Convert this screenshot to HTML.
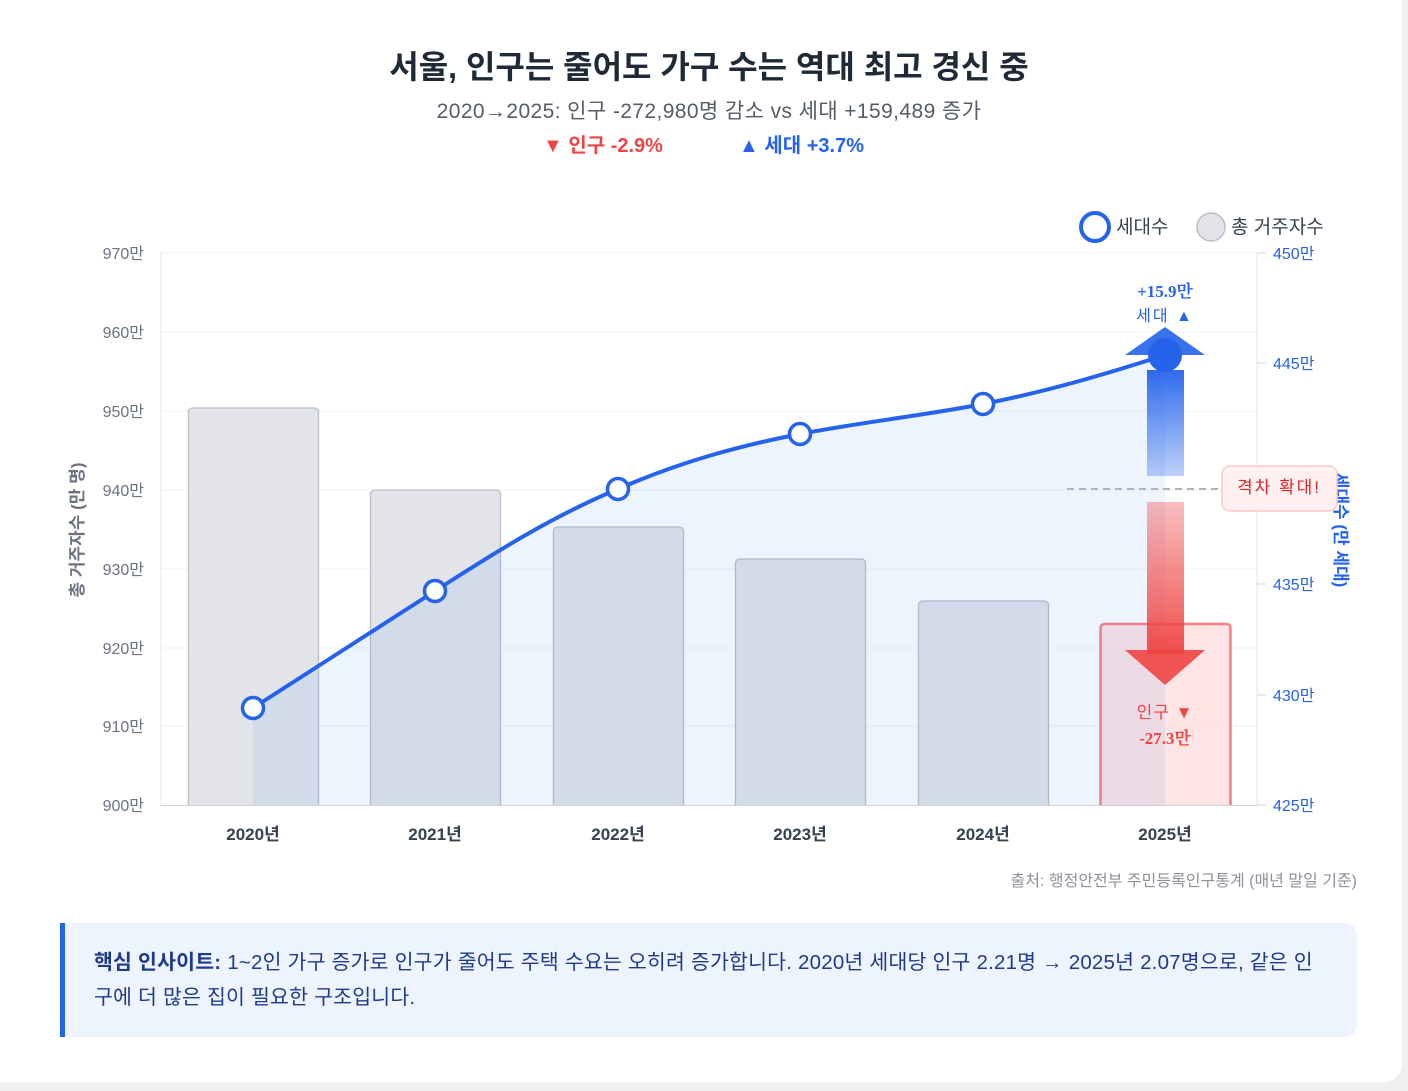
<!DOCTYPE html>
<html><head><meta charset="utf-8"><style>
html,body{margin:0;padding:0;background:#eeeff1;}
body{width:1408px;height:1091px;position:relative;overflow:hidden;font-family:"Liberation Sans","Noto Sans CJK KR",sans-serif;}
.card{position:absolute;left:0;top:0;width:1402px;height:1082px;background:#fff;border-radius:0 0 18px 0;}
.t{position:absolute;white-space:nowrap;}
</style></head><body>
<div class="card"></div>
<div class="t" style="left:0;width:1418px;text-align:center;top:42px;font-size:32px;font-weight:bold;color:#1f2937;">서울, 인구는 줄어도 가구 수는 역대 최고 경신 중</div>
<div class="t" style="left:0;width:1418px;text-align:center;top:95px;font-size:21px;letter-spacing:0.4px;color:#555c68;">2020→2025: 인구 -272,980명 감소 vs 세대 +159,489 증가</div>
<div class="t" style="left:543px;top:129px;font-size:20px;font-weight:bold;color:#ef4444;">▼ 인구 -2.9%</div>
<div class="t" style="left:739px;top:129px;font-size:20px;font-weight:bold;color:#2563eb;">▲ 세대 +3.7%</div>
<svg width="1408" height="1091" style="position:absolute;left:0;top:0" font-family="Liberation Sans, Noto Sans CJK KR, sans-serif">
<defs>
<linearGradient id="bg" x1="0" y1="0" x2="0" y2="1"><stop offset="0" stop-color="#2563eb" stop-opacity="0.95"/><stop offset="1" stop-color="#2563eb" stop-opacity="0.3"/></linearGradient>
<linearGradient id="rg" x1="0" y1="0" x2="0" y2="1"><stop offset="0" stop-color="#ef4444" stop-opacity="0.35"/><stop offset="1" stop-color="#ef4444" stop-opacity="0.95"/></linearGradient>
</defs>
<g stroke="#f0f1f3" stroke-width="1">
<line x1="160" y1="253" x2="1258" y2="253"/><line x1="160" y1="332" x2="1258" y2="332"/><line x1="160" y1="411" x2="1258" y2="411"/><line x1="160" y1="490" x2="1258" y2="490"/><line x1="160" y1="569" x2="1258" y2="569"/><line x1="160" y1="648" x2="1258" y2="648"/><line x1="160" y1="726" x2="1258" y2="726"/>
</g>
<line x1="161" y1="253" x2="161" y2="805" stroke="#e5e7eb"/>
<line x1="1257" y1="253" x2="1257" y2="805" stroke="#e5e7eb"/>
<line x1="160" y1="805.5" x2="1258" y2="805.5" stroke="#d1d5db"/>
<g font-size="16" fill="#6b7280" text-anchor="end">
<text x="144" y="259">970만</text><text x="144" y="338">960만</text><text x="144" y="417">950만</text><text x="144" y="496">940만</text><text x="144" y="575">930만</text><text x="144" y="654">920만</text><text x="144" y="732">910만</text><text x="144" y="811">900만</text>
</g>
<g stroke="#d1d5db"><line x1="1257" y1="253" x2="1266" y2="253"/><line x1="1257" y1="363" x2="1266" y2="363"/><line x1="1257" y1="474" x2="1266" y2="474"/><line x1="1257" y1="584" x2="1266" y2="584"/><line x1="1257" y1="695" x2="1266" y2="695"/><line x1="1257" y1="805" x2="1266" y2="805"/></g>
<g font-size="16" fill="#2563eb">
<text x="1273" y="259">450만</text><text x="1273" y="369">445만</text><text x="1273" y="590">435만</text><text x="1273" y="701">430만</text><text x="1273" y="811">425만</text>
</g>
<text transform="translate(83,530) rotate(-90)" text-anchor="middle" font-size="17" font-weight="bold" fill="#6b7280">총 거주자수 (만 명)</text>
<text transform="translate(1335,530) rotate(90)" text-anchor="middle" font-size="17" font-weight="bold" fill="#2563eb">세대수 (만 세대)</text>
<g fill="#e2e4e9" stroke="#b9bdc6" stroke-width="1.3">
<path d="M188.5 805V412a4 4 0 0 1 4-4h122a4 4 0 0 1 4 4V805"/>
<path d="M370.5 805V494a4 4 0 0 1 4-4h122a4 4 0 0 1 4 4V805"/>
<path d="M553.5 805V531a4 4 0 0 1 4-4h122a4 4 0 0 1 4 4V805"/>
<path d="M735.5 805V563a4 4 0 0 1 4-4h122a4 4 0 0 1 4 4V805"/>
<path d="M918.5 805V605a4 4 0 0 1 4-4h122a4 4 0 0 1 4 4V805"/>
</g>
<path d="M1100.5 805V628a4 4 0 0 1 4-4h122a4 4 0 0 1 4 4V805" fill="#fee2e2" stroke="#f87171" stroke-width="2.5" opacity="0.9"/>
<path d="M253 708 C313 669 375 630 435 591 C497 551 555 515 618 489 C680 462 738 446 800 434 C862 422 921 416 983 404 C1045 392 1103 375 1165 355 L1165 805 L253 805Z" fill="#3b82f6" fill-opacity="0.09"/>
<path d="M253 708 C313 669 375 630 435 591 C497 551 555 515 618 489 C680 462 738 446 800 434 C862 422 921 416 983 404 C1045 392 1103 375 1165 355" fill="none" stroke="#2563eb" stroke-width="4"/>
<line x1="1067" y1="489" x2="1220" y2="489" stroke="#b0b4bb" stroke-width="2" stroke-dasharray="7 5"/>
<rect x="1147" y="370" width="37" height="106" fill="url(#bg)"/>
<polygon points="1125,355 1165,327 1205,355" fill="#2563eb" opacity="0.9"/>
<rect x="1147" y="502" width="37" height="152" fill="url(#rg)"/>
<polygon points="1125,650 1205,650 1165,685" fill="#ef4444" opacity="0.9"/>
<g fill="#fff" stroke="#2563eb" stroke-width="3.5">
<circle cx="253" cy="708" r="10.5"/><circle cx="435" cy="591" r="10.5"/><circle cx="618" cy="489" r="10.5"/><circle cx="800" cy="434" r="10.5"/><circle cx="983" cy="404" r="10.5"/>
</g>
<circle cx="1165" cy="355" r="17" fill="#2563eb"/>
<text x="1165" y="297" text-anchor="middle" font-size="17" font-weight="bold" fill="#2563eb" font-family="Liberation Serif, Noto Serif CJK SC, serif">+15.9만</text>
<text x="1165" y="321" text-anchor="middle" font-size="16" fill="#2563eb" letter-spacing="2">세대 ▲</text>
<text x="1165" y="718" text-anchor="middle" font-size="17" fill="#ef4444" letter-spacing="1">인구 ▼</text>
<text x="1165" y="744" text-anchor="middle" font-size="17" font-weight="bold" fill="#ef4444" font-family="Liberation Serif, Noto Serif CJK SC, serif">-27.3만</text>
<rect x="1222" y="466" width="115" height="45" rx="8" fill="#fff1f1" stroke="#fbc7c7" stroke-width="1.5"/>
<text x="1279" y="493" text-anchor="middle" font-size="17" fill="#dc2626" letter-spacing="2">격차 확대!</text>
<g font-size="17" font-weight="bold" fill="#374151" text-anchor="middle">
<text x="253" y="840">2020년</text><text x="435" y="840">2021년</text><text x="618" y="840">2022년</text><text x="800" y="840">2023년</text><text x="983" y="840">2024년</text><text x="1165" y="840">2025년</text>
</g>
<circle cx="1095" cy="227" r="14" fill="#fff" stroke="#2563eb" stroke-width="4"/>
<text x="1116" y="233" font-size="19" fill="#374151">세대수</text>
<circle cx="1211" cy="227" r="14" fill="#e2e4e9" stroke="#b9bdc6" stroke-width="1.5"/>
<text x="1231" y="233" font-size="19" fill="#374151">총 거주자수</text>
<text x="1357" y="886" text-anchor="end" font-size="16" fill="#8b919b">출처: 행정안전부 주민등록인구통계 (매년 말일 기준)</text>
</svg>
<div style="position:absolute;left:60px;top:923px;width:1297px;height:114px;background:#eef4fe;border-left:5px solid #2563eb;border-radius:0 12px 12px 0;box-sizing:border-box;padding:22px 28px 0 29px;font-size:20.5px;letter-spacing:0.2px;line-height:35px;color:#1e3a8a;"><b>핵심 인사이트:</b> 1~2인 가구 증가로 인구가 줄어도 주택 수요는 오히려 증가합니다. 2020년 세대당 인구 2.21명 → 2025년 2.07명으로, 같은 인<br>구에 더 많은 집이 필요한 구조입니다.</div>
</body></html>
